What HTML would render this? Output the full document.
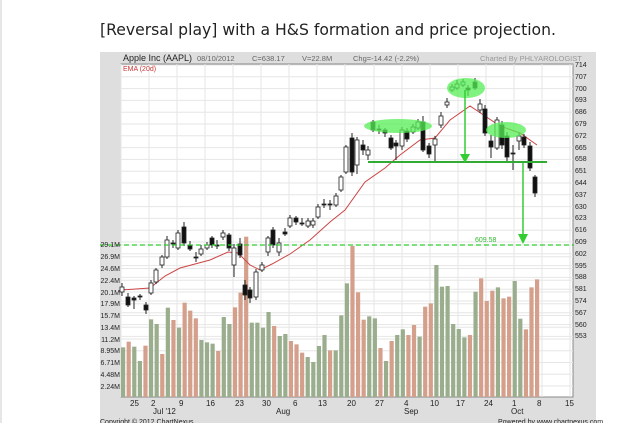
<!DOCTYPE html>
<html><head><meta charset="utf-8"><style>
body{margin:0;width:642px;height:423px;overflow:hidden;background:#fff;font-family:"Liberation Sans",sans-serif}
</style></head><body>
<svg width="642" height="423" xmlns="http://www.w3.org/2000/svg" font-family="Liberation Sans, sans-serif">
<line x1="1" y1="0" x2="1" y2="423" stroke="#ccc"/>
<text x="100" y="35" font-size="16" fill="#222" font-family="DejaVu Sans, sans-serif" textLength="456" lengthAdjust="spacingAndGlyphs">[Reversal play] with a H&amp;S formation and price projection.</text>
<rect x="100" y="52" width="496" height="371" fill="#dedede"/>
<rect x="121" y="64" width="452" height="333" fill="#fff" stroke="#888"/>
<g id="grid" stroke="#e6e6e6" stroke-width="1"></g>
<g font-size="8" fill="#222">
<text x="123" y="61" font-size="9">Apple Inc (AAPL)</text>
<text x="197" y="61" fill="#666" font-size="7.5">08/10/2012</text>
<text x="252" y="61" fill="#666" font-size="7.5">C=638.17</text>
<text x="302" y="61" fill="#666" font-size="7.5">V=22.8M</text>
<text x="353" y="61" fill="#666" font-size="7.5">Chg=-14.42 (-2.2%)</text>
<text x="480" y="61" fill="#999" font-size="7.5">Charted By PHLYAROLOGIST</text>
<text x="123" y="71" fill="#c33" font-size="7">EMA (20d)</text>
</g>
<g id="vol"></g>
<polyline fill="none" stroke="#c44" stroke-width="1" points="121,290 150,288 165,276 180,268 210,260 228,252 238,253 250,265 260,270 272,264 290,254 310,240 330,222 345,210 365,182 385,168 400,155 420,140 435,138 450,120 470,106 485,116 500,126 520,133 537,145"/>
<g id="cand"></g>
<g fill="#5e5" fill-opacity="0.75">
<ellipse cx="398" cy="126" rx="34" ry="7"/>
<ellipse cx="466" cy="88" rx="19" ry="10"/>
<ellipse cx="506" cy="130" rx="20" ry="8"/>
</g>
<line x1="368" y1="162" x2="547" y2="162" stroke="#3a3" stroke-width="2"/>
<line x1="465" y1="90" x2="465" y2="158" stroke="#3c3" stroke-width="1.5"/>
<polygon points="460,154 470,154 465,163" fill="#3c3"/>
<line x1="523" y1="163" x2="523" y2="238" stroke="#3c3" stroke-width="1.5"/>
<polygon points="518,234 528,234 523,244" fill="#3c3"/>
<line x1="100" y1="245" x2="574" y2="245" stroke="#3c3" stroke-width="1.2" stroke-dasharray="5,3"/>
<text x="475" y="242" font-size="7" fill="#3b3">609.58</text>
<g font-size="7" fill="#222" text-anchor="end">
<text x="120" y="247">29.1M</text><text x="120" y="259">26.9M</text><text x="120" y="271">24.6M</text><text x="120" y="283">22.4M</text><text x="120" y="295">20.1M</text><text x="120" y="306">17.9M</text><text x="120" y="318">15.7M</text><text x="120" y="330">13.4M</text><text x="120" y="342">11.2M</text><text x="120" y="353">8.95M</text><text x="120" y="365">6.71M</text><text x="120" y="377">4.48M</text><text x="120" y="389">2.24M</text>
</g>
<g font-size="8" fill="#222">
<text x="130" y="406">25</text><text x="151" y="406">2</text><text x="179" y="406">9</text><text x="206" y="406">16</text><text x="235" y="406">23</text><text x="262" y="406">30</text><text x="293" y="406">6</text><text x="318" y="406">13</text><text x="347" y="406">20</text><text x="375" y="406">27</text><text x="404" y="406">4</text><text x="430" y="406">10</text><text x="456" y="406">17</text><text x="484" y="406">24</text><text x="512" y="406">1</text><text x="537" y="406">8</text><text x="565" y="406">15</text>
<text x="153" y="414">Jul '12</text><text x="276" y="414">Aug</text><text x="404" y="414">Sep</text><text x="511" y="414">Oct</text>
<text x="100" y="424" font-size="7">Copyright © 2012 ChartNexus</text>
<text x="498" y="424" font-size="7">Powered by www.chartnexus.com</text>
</g>
<g font-size="7" fill="#222">
<text x="575" y="67">714</text><text x="575" y="79">707</text><text x="575" y="91">700</text><text x="575" y="102">693</text><text x="575" y="114">686</text><text x="575" y="126">679</text><text x="575" y="138">672</text><text x="575" y="150">665</text><text x="575" y="161">658</text><text x="575" y="173">651</text><text x="575" y="185">644</text><text x="575" y="197">637</text><text x="575" y="209">630</text><text x="575" y="220">623</text><text x="575" y="232">616</text><text x="575" y="244">609</text><text x="575" y="256">602</text><text x="575" y="268">595</text><text x="575" y="279">588</text><text x="575" y="291">581</text><text x="575" y="303">574</text><text x="575" y="315">567</text><text x="575" y="327">560</text><text x="575" y="338">553</text>
</g>
</svg>
<script>
var NS="http://www.w3.org/2000/svg";
function el(p,t,a){var e=document.createElementNS(NS,t);for(var k in a)e.setAttribute(k,a[k]);document.getElementById(p).appendChild(e);return e;}
var vx=[121,149,177,205,233,261,289,317,345,374,402,430,458,486,514,542,570];
vx.forEach(function(x){el("grid","line",{x1:x,y1:64,x2:x,y2:397});});
for(var i=0;i<24;i++){var y=65+i*11.8;el("grid","line",{x1:121,y1:y,x2:573,y2:y});}
for(var i=0;i<13;i++){var y=245+i*11.75;el("grid","line",{x1:121,y1:y,x2:573,y2:y});}
var v="g322 r305 g320 g363 r317 g238 g252 r342 g203 r240 g263 r188 r212 r235 g300 g307 g311 r333 g231 g252 r202 r158 r-10 g248 g248 g263 g216 r258 g288 g282 r303 r313 r338 g351 g366 g318 g285 r331 g331 g226 g130 r18 r157 r239 g229 g235 r324 g363 r303 g285 g268 r285 r255 g290 r200 r190 g75 g140 g138 g252 g267 g292 r285 g155 r115 r183 r152 g142 r175 r170 g123 g236 r268 r142 r118".split(" ");
var n=v.length;
v.forEach(function(s,i){var x=123+i*(414/(n-1));var t=240+parseFloat(s.slice(1))/3;
el("vol","rect",{x:x-2,y:t,width:4.2,height:397-t,fill:s[0]=="g"?"#9aae8e":"#d4a08c"});});
var c=[[122,287,292,0,283,296],[128,297,305,1,293,307],[134,298,300,1,296,309],[140,296,297,1,294,300],[146,305,310,1,302,314],[151,283,293,0,280,295],[156,270,282,0,268,284],[162,257,265,0,255,268],[167,240,257,0,236,259],[173,243,244,1,240,248],[178,233,248,0,230,250],[184,227,243,1,222,246],[190,245,249,1,241,251],[196,257,258,1,252,262],[201,249,254,0,245,256],[207,245,248,0,242,250],[212,238,245,1,236,248],[217,245,246,1,240,249],[223,233,237,0,230,240],[229,235,248,1,233,251],[234,248,265,0,244,277],[240,244,255,1,238,258],[245,285,295,1,280,300],[250,290,298,1,287,303],[256,272,297,0,269,300],[262,265,270,0,262,272],[268,238,252,0,236,256],[273,230,245,1,227,248],[279,243,252,0,238,256],[285,232,234,1,228,236],[290,218,226,0,215,228],[296,218,222,1,216,225],[302,223,224,1,218,226],[308,221,226,0,218,228],[313,221,225,0,218,228],[318,207,217,0,204,219],[324,204,205,1,199,208],[330,204,205,1,200,210],[336,196,205,0,193,207],[341,177,190,0,175,192],[346,147,172,0,145,174],[352,138,172,1,133,176],[357,140,165,0,137,174],[363,145,150,1,140,155],[368,150,155,0,146,160],[373,122,130,1,120,132],[379,129,130,1,125,134],[385,130,133,1,128,137],[391,138,148,1,135,150],[396,143,146,1,140,160],[402,130,146,0,127,150],[407,131,139,1,128,142],[413,127,132,0,124,134],[418,122,128,0,119,130],[423,122,150,1,116,152],[429,146,154,1,143,158],[435,139,145,0,136,162],[441,116,125,0,112,128],[447,102,105,0,98,108],[452,87,90,0,84,92],[457,84,88,0,80,90],[463,82,85,0,79,87],[468,88,90,1,85,96],[475,82,88,1,78,90],[480,104,110,0,99,113],[485,109,133,1,105,136],[491,141,147,1,135,158],[497,120,148,0,117,150],[502,125,145,1,121,149],[507,136,157,1,132,162],[513,153,154,1,145,170],[519,136,141,0,133,150],[524,137,145,1,134,148],[530,146,168,1,142,171],[535,177,193,1,175,197]];
c.forEach(function(d){el("cand","line",{x1:d[0],y1:d[4],x2:d[0],y2:d[5],stroke:"#222","stroke-width":1});
el("cand","rect",{x:d[0]-2,y:d[1],width:4,height:Math.max(1,d[2]-d[1]),fill:d[3]?"#111":"#fff",stroke:"#222","stroke-width":0.8});});
</script>
</body></html>
